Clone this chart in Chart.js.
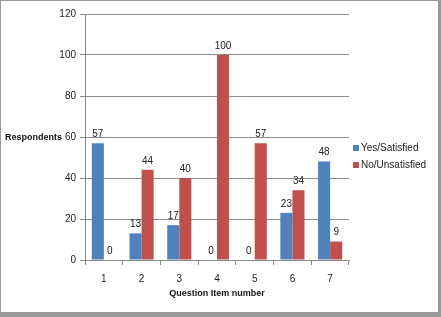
<!DOCTYPE html>
<html>
<head>
<meta charset="utf-8">
<script src="https://cdn.jsdelivr.net/npm/chart.js@4"></script>
<style>
  html, body { margin: 0; padding: 0; background: #fff; }
  #wrap { width: 441px; height: 317px; position: relative; }
</style>
</head>
<body>
<div id="wrap"><canvas id="surveyChart" width="441" height="317"></canvas></div>
<script>
const questionItems = ['1', '2', '3', '4', '5', '6', '7'];
const yesSatisfied = [57, 13, 17, 0, 0, 23, 48];
const noUnsatisfied = [0, 44, 40, 100, 57, 34, 9];
const seriesNames = ['Yes/Satisfied', 'No/Unsatisfied'];
const seriesColors = ['#4F81BD', '#C0504D'];
const yTicks = [0, 20, 40, 60, 80, 100, 120];

const FONT = '"Liberation Sans", Arial, sans-serif';

// frame, y title, legend and the value labels
const extras = {
  id: 'extras',
  beforeDraw(chart) {
    const c = chart.ctx;
    c.save();
    c.fillStyle = '#fff';
    c.fillRect(0, 0, chart.width, chart.height);
    c.restore();
  },
  afterDatasetsDraw(chart) {
    const c = chart.ctx;
    c.save();
    c.font = '10px ' + FONT;
    c.fillStyle = '#222';
    c.textAlign = 'center';
    c.textBaseline = 'bottom';
    chart.data.datasets.forEach((ds, i) => {
      chart.getDatasetMeta(i).data.forEach((bar, j) => {
        c.fillText(ds.data[j], bar.x, bar.y - 4);
      });
    });
    c.restore();
  },
  afterDraw(chart) {
    const c = chart.ctx;
    c.save();
    // y title
    c.font = 'bold 9px ' + FONT;
    c.fillStyle = '#111';
    c.textAlign = 'left';
    c.textBaseline = 'middle';
    c.fillText('Respondents', 5, 138);
    // legend
    c.font = '10px ' + FONT;
    seriesNames.forEach((name, i) => {
      const y = 148 + i * 17;
      c.fillStyle = seriesColors[i];
      c.fillRect(353, y - 3, 6, 6);
      c.fillStyle = '#222';
      c.fillText(name, 361, y);
    });
    // frame
    c.fillStyle = '#9a9a9a';
    c.fillRect(0, 0, 441, 1);
    c.fillRect(0, 0, 1, 317);
    c.fillRect(438, 0, 3, 317);
    c.fillRect(0, 312, 441, 5);
    c.restore();
  }
};

new Chart(document.getElementById('surveyChart'), {
  type: 'bar',
  data: {
    labels: questionItems,
    datasets: [
      { label: seriesNames[0], data: yesSatisfied, backgroundColor: seriesColors[0] },
      { label: seriesNames[1], data: noUnsatisfied, backgroundColor: seriesColors[1] }
    ]
  },
  options: {
    responsive: false,
    animation: false,
    devicePixelRatio: 1,
    layout: { padding: { left: 0, top: 14, right: 92, bottom: 18 } },
    datasets: { bar: { categoryPercentage: 0.64, barPercentage: 1 } },
    plugins: { legend: { display: false }, tooltip: { enabled: false } },
    scales: {
      x: {
        grid: { drawOnChartArea: false, offset: true, tickLength: 5, color: '#888' },
        border: { color: '#888' },
        ticks: { color: '#222', font: { family: FONT, size: 10 }, padding: 8 },
        title: { display: true, text: 'Question Item number', color: '#111', font: { family: FONT, size: 9, weight: 'bold' }, padding: { top: 2, bottom: 0 } },
        afterFit(scale) { scale.height = 39; }
      },
      y: {
        min: 0,
        max: 120,
        afterBuildTicks(scale) { scale.ticks = yTicks.map(v => ({ value: v })); },
        grid: { color: '#8c8c8c', tickLength: 5 },
        border: { color: '#888' },
        ticks: { color: '#222', font: { family: FONT, size: 10 }, padding: 4 },
        afterFit(scale) { scale.width = 85; }
      }
    }
  },
  plugins: [extras]
});
</script>
</body>
</html>
